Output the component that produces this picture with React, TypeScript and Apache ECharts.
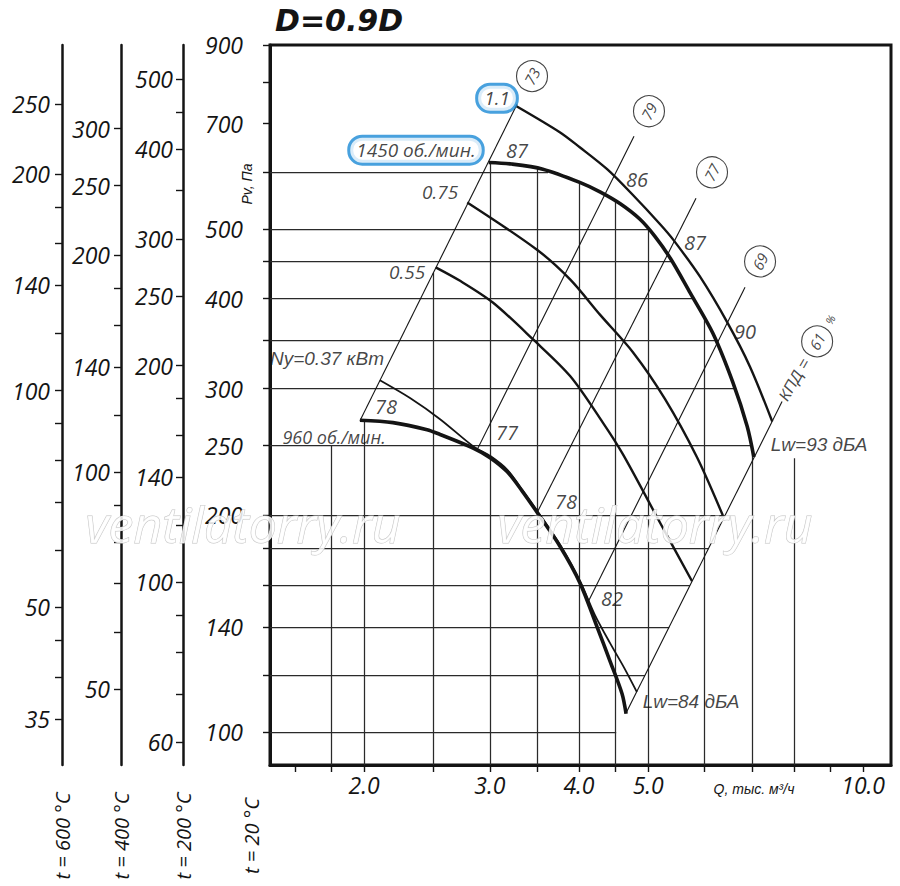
import React, { useEffect, useRef } from "react";
import * as echarts from "echarts";

const FONT = "'Open Sans', 'DejaVu Sans', sans-serif";
const CYR = "'Liberation Sans', 'DejaVu Sans', sans-serif";
const INK = "#141414";
const GRIDC = "#2a2a2a";
const BLUE = "#1a8ad6";

// ---- axis ranges ----
const qRange = [1.477, 10.94]; // Q, thousand m3/h
const pRange = [90, 900]; // Pv, Pa at t = 20 °C

// ---- ticks and labels ----
const qTicks = [1.6, 1.8, 2.0, 2.5, 3.0, 3.5, 4.0, 4.5, 5.0, 6.0, 7.0, 8.0, 9.0, 10.0];
const qLabels = [2.0, 3.0, 4.0, 5.0, 10.0];
const p20Ticks = [900, 800, 700, 600, 500, 450, 400, 350, 300, 250, 200, 180, 160, 140, 120, 100];
const p20Labels = [900, 700, 500, 400, 300, 250, 200, 140, 100];
const p200Ticks = [500, 450, 400, 350, 300, 250, 200, 180, 160, 140, 120, 100, 90, 80, 70, 60];
const p200Labels = [500, 400, 300, 250, 200, 140, 100, 60];
const p400Ticks = [300, 250, 200, 180, 160, 140, 120, 100, 90, 80, 70, 60, 50];
const p400Labels = [300, 250, 200, 140, 100, 50];
const p600Ticks = [250, 200, 180, 160, 140, 120, 100, 90, 80, 70, 60, 50, 45, 40, 35];
const p600Labels = [250, 200, 140, 100, 50, 35];
const tempLabels = ["t = 20 °C", "t = 200 °C", "t = 400 °C", "t = 600 °C"];

// ---- fan curves ----
const rpm1450Q = [2.99, 3.22, 3.56, 4.01, 4.28, 4.57, 4.87, 5.11, 5.37, 5.72, 6.16, 6.57, 6.88, 7.03];
const rpm1450P = [618, 615, 605, 580, 562.7, 541.6, 515.4, 488, 455, 408, 358, 306, 266, 241];
const rpm960Q = [1.974, 2.196, 2.451, 2.556, 2.843, 3.003, 3.172, 3.329, 3.494, 3.764, 4.014, 4.24, 4.421, 4.596, 4.656];
const rpm960P = [271, 269, 263, 259, 248, 240.5, 230, 216.3, 202, 181, 161, 140, 125.5, 113, 106];

// ---- power curves ----
const n110Q = [3.27, 3.76, 4.01, 4.38, 4.76, 5.2, 5.42, 5.91, 6.45, 6.94, 7.46];
const n110P = [740, 681, 649, 605, 557, 507, 483, 429, 371, 322, 270];
const n075Q = [2.79, 3.49, 3.89, 4.28, 4.76, 5.28, 5.85, 6.36];
const n075P = [544, 468, 425, 380, 337, 290, 241, 200];
const n055Q = [2.52, 2.73, 3.03, 3.45, 3.89, 4.32, 4.61, 5.2, 5.76];
const n055P = [442, 423, 395, 351, 312, 269, 243, 195, 162];
const n037Q = [2.105, 2.32, 2.556, 2.843, 3.01, 3.18, 3.33, 3.5, 3.77, 4.02, 4.21, 4.42, 4.63, 4.82];
const n037P = [308, 291, 272, 249.5, 241.5, 231, 217, 202.5, 181.5, 161.5, 145.5, 133, 122.7, 113.7];

// ---- efficiency rays (system lines) ----
const effTxt = ["73", "79", "77", "69", "61"];
const effLoQ = [1.974, 2.88, 3.494, 4.119, 4.656];
const effLoP = [270.7, 246.7, 201.6, 151.6, 106.3];
const effHiQ = [3.276, 4.777, 5.834, 6.833, 7.7];
const effHiP = [744.7, 672.2, 551.2, 414.6, 287.7];
const effMarkQ = [3.438, 5.013, 6.143, 7.172, 8.621];
const effMarkP = [814.7, 728.3, 599, 450.5, 348.8];

// ---- grid segments ----
const hGridP = [600, 500, 450, 400, 350, 300, 250, 200, 180, 160, 140, 120, 100];
const hGridEndQ = [3.62, 5.0, 5.41, 5.79, 6.22, 6.62, 6.97, 6.4, 6.07, 5.72, 5.35, 4.95, 4.51];
const vGridQ = [1.8, 2.0, 2.5, 3.0, 3.5, 4.0, 4.5, 5.0, 6.0, 7.0, 8.0];
const vGridTopP = [250, 270, 434, 618, 606, 580, 546, 501, 376, 246, 240];

// ---- text annotations ----
const noise1450Txt = ["87", "86", "87", "90"];
const noise1450Q = [3.276, 4.824, 5.815, 6.833];
const noise1450P = [642.9, 585.7, 478.7, 359.9];
const noise960Txt = ["78", "77", "78", "82"];
const noise960Q = [2.147, 3.172, 3.837, 4.45];
const noise960P = [283.2, 260.5, 208.9, 153.1];
const powerTxt = ["0.75", "0.55"];
const powerQ = [2.556, 2.298];
const powerP = [561.9, 434.9];
const nyTxt = ["Ny=0.37 кВт"];
const nyQ = [1.775];
const nyP = [330.3];
const boxTxt = ["1.1", "1450 об./мин."];
const boxQ = [3.071, 2.365];
const boxP = [759.3, 642.9];
const rpmTxt = ["960 об./мин."];
const rpmQ = [1.816];
const rpmP = [257.2];
const lwTxt = ["Lw=93 дБА", "Lw=84 дБА"];
const lwQ = [8.677, 5.741];
const lwP = [250.7, 110.1];
const kpdTxt = ["КПД =", "%"];
const kpdQ = [8.005, 8.99];
const kpdP = [308.7, 374.1];

const lg = (v: number) => Math.log10(v);
const ratio = (t: number) => (273 + 20) / (273 + t);
const pts = (qs: number[], ps: number[]) => qs.map((q, i) => [lg(q), lg(ps[i])]);

function yAxisFor(t: number, ticks: number[], labels: number[], offset: number, margin: number) {
  return {
    type: "value",
    position: "left",
    offset,
    min: lg(pRange[0] * ratio(t)),
    max: lg(pRange[1] * ratio(t)),
    axisLine: { show: true, onZero: false, lineStyle: { color: INK, width: offset === 0 ? 3 : 2.5 } },
    axisTick: {
      show: true,
      inside: false,
      length: 7,
      lineStyle: { color: INK, width: 1.4 },
      customValues: ticks.map(lg),
    },
    axisLabel: {
      show: true,
      margin,
      customValues: labels.map(lg),
      formatter: (v: number) => String(Math.round(Math.pow(10, v))),
      fontSize: 23,
      fontStyle: "italic",
      fontFamily: FONT,
      color: INK,
    },
    splitLine: { show: false },
  };
}

function textSeries(txt: string[], qs: number[], ps: number[], label: any) {
  return {
    type: "scatter",
    silent: true,
    z: 6,
    symbolSize: 1,
    itemStyle: { color: "rgba(0,0,0,0)" },
    data: qs.map((q, i) => ({ value: [lg(q), lg(ps[i])], name: txt[i] })),
    label: {
      show: true,
      position: "inside",
      formatter: "{b}",
      fontStyle: "italic",
      fontFamily: FONT,
      color: INK,
      ...label,
    },
  };
}

function curve(qs: number[], ps: number[], width: number) {
  return {
    type: "line",
    silent: true,
    z: 3,
    showSymbol: false,
    symbol: "none",
    smooth: 0.3,
    data: pts(qs, ps),
    lineStyle: { color: INK, width },
  };
}

export default function App() {
  const ref = useRef<HTMLDivElement>(null);

  useEffect(() => {
    if (!ref.current) return;
    const chart = echarts.init(ref.current, undefined, { renderer: "svg" });

    const xMin = lg(qRange[0]);
    const yMin = lg(pRange[0]);
    const gridSegs = [
      ...hGridP.map((p, i) => ({ coords: [[xMin, lg(p)], [lg(hGridEndQ[i]), lg(p)]] })),
      ...vGridQ.map((q, i) => ({ coords: [[lg(q), yMin], [lg(q), lg(vGridTopP[i])]] })),
    ];
    const raySegs = effLoQ.map((q, i) => ({
      coords: [[lg(q), lg(effLoP[i])], [lg(effHiQ[i]), lg(effHiP[i])]],
    }));

    const option: any = {
      animation: false,
      backgroundColor: "#fff",
      grid: { left: 270, top: 45, width: 621, height: 720, show: true, borderColor: INK, borderWidth: 3 },
      xAxis: {
        type: "value",
        min: lg(qRange[0]),
        max: lg(qRange[1]),
        axisLine: { show: true, onZero: false, lineStyle: { color: INK, width: 3 } },
        axisTick: {
          show: true,
          inside: false,
          length: 7,
          lineStyle: { color: INK, width: 1.4 },
          customValues: qTicks.map(lg),
        },
        axisLabel: {
          show: true,
          margin: 8,
          customValues: qLabels.map(lg),
          formatter: (v: number) => Math.pow(10, v).toFixed(1),
          fontSize: 23,
          fontStyle: "italic",
          fontFamily: FONT,
          color: INK,
        },
        splitLine: { show: false },
      },
      yAxis: [
        yAxisFor(20, p20Ticks, p20Labels, 0, 27),
        yAxisFor(200, p200Ticks, p200Labels, 87, 10),
        yAxisFor(400, p400Ticks, p400Labels, 149, 11),
        yAxisFor(600, p600Ticks, p600Labels, 208, 12),
      ],
      series: [
        {
          type: "lines",
          coordinateSystem: "cartesian2d",
          silent: true,
          z: 1,
          data: gridSegs,
          lineStyle: { color: GRIDC, width: 1.25, opacity: 1, curveness: 0 },
        },
        {
          type: "lines",
          coordinateSystem: "cartesian2d",
          silent: true,
          z: 2,
          data: raySegs,
          lineStyle: { color: INK, width: 1.1, opacity: 1, curveness: 0 },
        },
        curve(n110Q, n110P, 2.4),
        curve(n075Q, n075P, 2.4),
        curve(n055Q, n055P, 2.4),
        curve(n037Q, n037P, 1.8),
        curve(rpm1450Q, rpm1450P, 3.6),
        curve(rpm960Q, rpm960P, 3.6),
        textSeries(noise1450Txt, noise1450Q, noise1450P, { fontSize: 20 }),
        textSeries(noise960Txt, noise960Q, noise960P, { fontSize: 20 }),
        textSeries(powerTxt, powerQ, powerP, { fontSize: 19 }),
        textSeries(nyTxt, nyQ, nyP, { fontSize: 19, fontFamily: CYR }),
        textSeries(rpmTxt, rpmQ, rpmP, { fontSize: 18 }),
        textSeries(boxTxt, boxQ, boxP, {
          fontSize: 19,
          lineHeight: 21,
          padding: [2, 6, 2, 6],
          borderColor: BLUE,
          borderWidth: 3,
          borderRadius: 12,
          backgroundColor: "#fff",
        }),
        textSeries(lwTxt, lwQ, lwP, { fontSize: 19, fontFamily: CYR }),
        {
          type: "scatter",
          silent: true,
          z: 7,
          symbol: "circle",
          symbolSize: 31,
          itemStyle: { color: "#fff", borderColor: INK, borderWidth: 1.1 },
          data: effMarkQ.map((q, i) => ({ value: [lg(q), lg(effMarkP[i])], name: effTxt[i] })),
          label: {
            show: true,
            position: "inside",
            formatter: "{b}",
            rotate: 62,
            fontSize: 15,
            fontStyle: "italic",
            fontFamily: FONT,
            color: INK,
          },
        },
        textSeries(kpdTxt.slice(0, 1), kpdQ.slice(0, 1), kpdP.slice(0, 1), {
          fontSize: 16,
          rotate: 60,
          fontFamily: CYR,
        }),
        textSeries(kpdTxt.slice(1), kpdQ.slice(1), kpdP.slice(1), { fontSize: 11, rotate: 60 }),
      ],
      graphic: [
        {
          type: "text",
          x: 275,
          y: 20,
          style: {
            text: "D=0.9D",
            fontSize: 30,
            fontWeight: "bold",
            fontStyle: "italic",
            fontFamily: "'DejaVu Sans', sans-serif",
            fill: INK,
            align: "left",
            verticalAlign: "middle",
          },
        },
        {
          type: "text",
          x: 247,
          y: 184,
          rotation: Math.PI / 2,
          style: {
            text: "Pv, Па",
            fontSize: 14,
            fontStyle: "italic",
            fontFamily: CYR,
            fill: INK,
            align: "center",
            verticalAlign: "middle",
          },
        },
        {
          type: "text",
          x: 754,
          y: 789,
          style: {
            text: "Q, тыс. м³/ч",
            fontSize: 14,
            fontStyle: "italic",
            fontFamily: CYR,
            fill: INK,
            align: "center",
            verticalAlign: "middle",
          },
        },
        ...tempLabels.map((t, i) => ({
          type: "text",
          x: [251, 183, 121, 62][i],
          y: 836,
          rotation: Math.PI / 2,
          style: {
            text: t,
            fontSize: 20,
            fontStyle: "italic",
            fontFamily: FONT,
            fill: INK,
            align: "center",
            verticalAlign: "middle",
          },
        })),
        ...[243, 655].map((x) => ({
          type: "text",
          x,
          y: 524,
          z: 100,
          silent: true,
          style: {
            text: "ventilatorry.ru",
            fontSize: 50,
            fontStyle: "italic",
            fontFamily: FONT,
            fill: "rgba(255,255,255,0.85)",
            stroke: "#c2c2c2",
            lineWidth: 1,
            align: "center",
            verticalAlign: "middle",
          },
        })),
      ],
    };

    chart.setOption(option);
    return () => chart.dispose();
  }, []);

  return (
    <div
      ref={ref}
      style={{ position: "fixed", left: 0, top: 0, width: 900, height: 886, background: "#fff" }}
    />
  );
}
